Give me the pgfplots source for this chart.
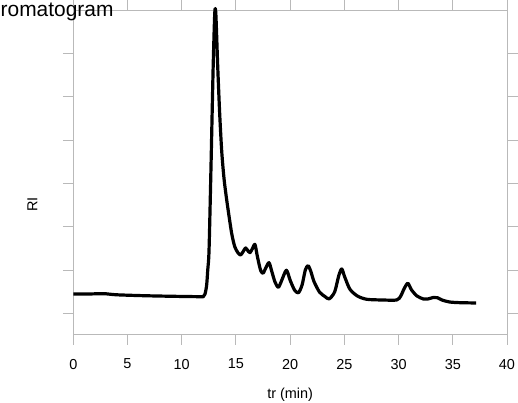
\documentclass[border=0pt]{standalone}
\usepackage{fontspec}
\setmainfont{Liberation Sans}
\usepackage{pgfplots}
\pgfplotsset{compat=1.18}
\definecolor{framegray}{RGB}{185,185,185}

\begin{document}
\begin{tikzpicture}
  \begin{axis}[
      at={(0,0)}, anchor=south west,
      scale only axis, width=433.7bp, height=323.7bp,
      xmin=0, xmax=40, ymin=-0.471, ymax=7,
      xtick={0,5,...,40}, ytick={0,1,...,6},
      yticklabels={},
      tick align=outside, major tick length=10.5bp,
      axis line style={framegray, line width=0.9bp},
      tick style={framegray, line width=0.9bp},
      /pgf/number format/assume math mode=true,
      ticklabel style={font=\fontsize{14.5}{16}\selectfont},
      xticklabel style={yshift=-11bp},
      xlabel={tr (min)}, ylabel={RI},
      label style={font=\fontsize{14.5}{16}\selectfont},
      xlabel style={at={(axis description cs:0.5,0)}, anchor=center, yshift=-61bp},
      ylabel style={at={(axis description cs:0,0.4)}, anchor=center, yshift=41bp},
      clip=false,
    ]
    \addplot[black, line width=3.2bp, line join=round, smooth, tension=0.45] coordinates {
      (0,0.453) (1.5,0.453) (2.8,0.46) (4,0.434) (6.5,0.413) (9,0.40) (11.7,0.39)
      (12.0,0.395) (12.15,0.453) (12.3,0.66) (12.4,1.007) (12.52,1.469) (12.7,3.393)
      (12.9,5.70) (13.05,6.95) (13.15,6.9) (13.32,5.70) (13.5,4.62) (13.69,3.74)
      (13.9,3.12) (14.15,2.62) (14.6,1.861) (14.9,1.538) (15.2,1.40) (15.44,1.353)
      (15.7,1.446) (15.9,1.515) (16.15,1.434) (16.3,1.406) (16.5,1.49) (16.75,1.596)
      (16.95,1.353) (17.15,1.12) (17.3,0.984) (17.5,0.931) (17.75,1.053) (18.05,1.175)
      (18.3,0.98) (18.6,0.73) (18.91,0.607) (19.2,0.753) (19.65,1.0) (20.0,0.77)
      (20.4,0.545) (20.76,0.48) (21.1,0.66) (21.4,1.007) (21.65,1.106) (21.9,0.98)
      (22.2,0.74) (22.7,0.499) (23.2,0.395) (23.6,0.34) (24.1,0.499) (24.5,0.89)
      (24.76,1.03) (25.0,0.868) (25.5,0.568) (26.2,0.406) (27.07,0.33) (28.5,0.314)
      (29.83,0.314) (30.2,0.406) (30.5,0.568) (30.85,0.70) (31.2,0.545) (31.7,0.406)
      (32.3,0.337) (32.7,0.337) (33.2,0.372) (33.58,0.367) (34.0,0.314) (34.7,0.268)
      (35.67,0.252) (37.15,0.245)
    };
  \end{axis}
  \node[anchor=base west, font=\fontsize{21}{23}\selectfont, inner sep=0pt]
    at (-72.8bp, 317.3bp) {romatogram};
  \pgfresetboundingbox
  \path[use as bounding box] (-73.3bp,-69bp) rectangle (444.7bp,334bp);
\end{tikzpicture}
\end{document}
